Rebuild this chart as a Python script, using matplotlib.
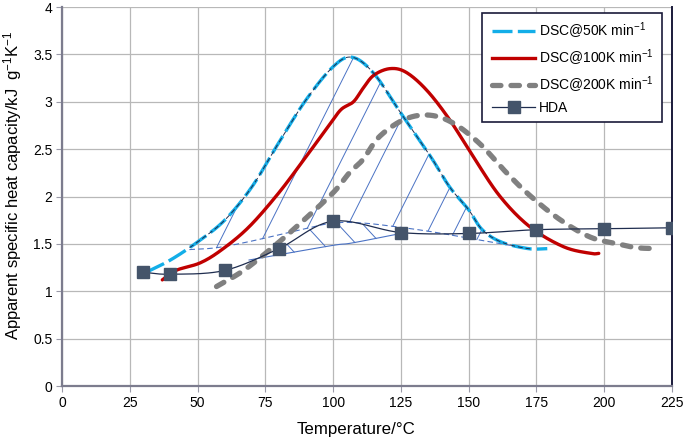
import numpy as np
import matplotlib
matplotlib.use("Agg")
import matplotlib.pyplot as plt
from matplotlib.lines import Line2D
from matplotlib.patches import Rectangle
from matplotlib.ticker import FuncFormatter, MultipleLocator

plt.rcParams['font.family'] = ['Liberation Sans', 'DejaVu Sans']
plt.rcParams['mathtext.fontset'] = 'custom'
plt.rcParams['mathtext.rm'] = 'Liberation Sans'
plt.rcParams['mathtext.it'] = 'Liberation Sans:italic'

# DSC curves (temperature in C, cp in kJ/g/K)
dsc50_t = [31, 40, 50, 60, 70, 80, 90, 100, 107, 115, 125, 136, 143, 150, 155, 162, 172, 179]
dsc50_cp = [1.20, 1.33, 1.52, 1.75, 2.10, 2.57, 3.02, 3.37, 3.47, 3.30, 2.88, 2.42, 2.10, 1.86, 1.65, 1.52, 1.45, 1.45]

dsc100_t = [37, 42, 51, 59, 69, 80, 90, 99, 103, 107.5, 111, 115, 121, 127, 134.6, 143, 151.7, 161.6, 172.6, 185, 195, 198]
dsc100_cp = [1.12, 1.22, 1.30, 1.44, 1.68, 2.04, 2.42, 2.77, 2.92, 3.00, 3.14, 3.28, 3.35, 3.31, 3.12, 2.81, 2.42, 2.00, 1.68, 1.47, 1.40, 1.40]

dsc200_t = [57, 67, 78, 88, 100, 106, 111, 117, 126, 135, 144, 154, 164, 173, 184, 195, 205, 212, 219]
dsc200_cp = [1.05, 1.22, 1.47, 1.72, 2.04, 2.25, 2.39, 2.63, 2.81, 2.86, 2.78, 2.56, 2.25, 2.00, 1.75, 1.57, 1.50, 1.46, 1.45]

hda_t = [30, 40, 60, 80, 100, 125, 150, 175, 200, 225]
hda_cp = [1.20, 1.18, 1.22, 1.45, 1.74, 1.62, 1.61, 1.65, 1.66, 1.67]

# baselines under the two peaks
base50_t = [47, 57, 70, 88, 100, 111, 123.5, 136, 148, 160, 168, 173]
base50_cp = [1.44, 1.46, 1.53, 1.65, 1.72, 1.72, 1.68, 1.63, 1.57, 1.51, 1.47, 1.45]
basehda_t = [69, 99, 107, 125]
basehda_cp = [1.33, 1.48, 1.51, 1.61]

# hatch lines: start temperatures and slopes (per degree)
hatch50_start = [57, 74, 90.5, 106, 122, 135, 144, 153]
hatch50_slope = 0.057
hatchhda_start = [83, 91.5, 100.7, 111]
hatchhda_slope = -0.031

legend_labels = [r'DSC@50K min$^{-1}$', r'DSC@100K min$^{-1}$',
                 r'DSC@200K min$^{-1}$', 'HDA']


def smooth(x, y, n=24):
    # Catmull-Rom, like Excel's smoothed lines
    x = np.asarray(x, float)
    y = np.asarray(y, float)
    px = np.concatenate([[2 * x[0] - x[1]], x, [2 * x[-1] - x[-2]]])
    py = np.concatenate([[2 * y[0] - y[1]], y, [2 * y[-1] - y[-2]]])
    t = np.linspace(0, 1, n, endpoint=False)
    xs, ys = [], []
    for i in range(1, len(px) - 2):
        for p, out in ((px, xs), (py, ys)):
            p0, p1, p2, p3 = p[i - 1], p[i], p[i + 1], p[i + 2]
            out.append(0.5 * (2 * p1 + (-p0 + p2) * t
                              + (2 * p0 - 5 * p1 + 4 * p2 - p3) * t ** 2
                              + (-p0 + 3 * p1 - 3 * p2 + p3) * t ** 3))
    xs = np.concatenate(xs + [[x[-1]]])
    ys = np.concatenate(ys + [[y[-1]]])
    return xs, ys


def hit(x0, y0, slope, cx, cy, above=True):
    # first crossing of a straight line with a curve
    xx = np.linspace(x0, x0 + 40, 800)
    yy = y0 + slope * (xx - x0)
    d = np.interp(xx, cx, cy) - yy
    idx = np.where(d <= 0)[0] if above else np.where(d >= 0)[0]
    k = idx[0] if len(idx) else len(xx) - 1
    return xx[k], yy[k]


c50 = '#13aee8'
c100 = '#c00000'
c200 = '#808080'
cnavy = '#1f2d4f'
cmark = '#44546a'
chatch = '#4a72c4'

fig = plt.figure(figsize=(6.85, 4.4), dpi=100)
ax = fig.add_axes([0.0905, 0.1227, 0.8905, 0.8613])

s50x, s50y = smooth(dsc50_t, dsc50_cp)
s100x, s100y = smooth(dsc100_t, dsc100_cp)
s200x, s200y = smooth(dsc200_t, dsc200_cp)
shx, shy = smooth(hda_t, hda_cp)
b50x, b50y = smooth(base50_t, base50_cp)
bhx, bhy = smooth(basehda_t, basehda_cp)

# hatching of the 50K peak
for x0 in hatch50_start:
    y0 = np.interp(x0, b50x, b50y)
    x1, y1 = hit(x0, y0, hatch50_slope, s50x, s50y, above=True)
    ax.plot([x0, x1], [y0, y1], color=chatch, lw=0.7, zorder=2)
ax.plot(b50x, b50y, color=chatch, lw=0.8, ls=(0, (5, 3)), zorder=2)
m = (s50x >= base50_t[0]) & (s50x <= base50_t[-1])
ax.plot(s50x[m], s50y[m], color=cnavy, lw=0.7, ls=(0, (5, 3)), zorder=4)

# hatching of the HDA peak
for x0 in hatchhda_start:
    y0 = np.interp(x0, shx, shy)
    x1, y1 = hit(x0, y0, hatchhda_slope, bhx, bhy, above=False)
    ax.plot([x0, x1], [y0, y1], color=chatch, lw=0.7, zorder=2)
ax.plot(bhx, bhy, color=chatch, lw=0.8, zorder=2)

l50, = ax.plot(s50x, s50y, color=c50, lw=2.4, zorder=3)
l50.set_dashes([6, 1.6])
ax.plot(s100x, s100y, color=c100, lw=2.4, zorder=3, solid_capstyle='round')
l200, = ax.plot(s200x, s200y, color=c200, lw=3.8, zorder=3, dash_capstyle='round')
l200.set_dashes([1.6, 1.9])
ax.plot(shx, shy, color=cnavy, lw=0.9, zorder=5)
ax.plot(hda_t, hda_cp, ls='none', marker='s', ms=8, color=cmark, zorder=6)

ax.set_xlim(0, 225)
ax.set_ylim(0, 4)
ax.xaxis.set_major_locator(MultipleLocator(25))
ax.yaxis.set_major_locator(MultipleLocator(0.5))
ax.yaxis.set_major_formatter(FuncFormatter(lambda v, p: '%g' % v))
ax.grid(True, color='#b8b8b8', lw=0.9)
ax.set_axisbelow(True)
ax.tick_params(length=4, width=0.8, color='#9a9aa8', labelsize=10, pad=3)
for side in ('left', 'bottom'):
    ax.spines[side].set_color('#7c7c8e')
    ax.spines[side].set_linewidth(1.6)
ax.spines['right'].set_color('#1a1a3a')
ax.spines['right'].set_linewidth(1.4)
ax.spines['top'].set_visible(False)

ax.set_xlabel('Temperature/°C', fontsize=12.2)
ax.set_ylabel(r'Apparent specific heat capacity/kJ  g$^{-1}$K$^{-1}$', fontsize=12)
ax.xaxis.set_label_coords(0.482, -0.095)
ax.yaxis.set_label_coords(-0.062, 0.53)

h50 = Line2D([], [], color=c50, lw=2.4, dashes=[6, 1.6])
h100 = Line2D([], [], color=c100, lw=2.4)
h200 = Line2D([], [], color=c200, lw=3.8, dashes=[1.6, 1.9], dash_capstyle='round')
hh = Line2D([], [], color=cnavy, lw=0.9, marker='s', ms=8, markerfacecolor=cmark,
            markeredgecolor=cmark)
leg = ax.legend([h50, h100, h200, hh], legend_labels, loc='upper left',
                bbox_to_anchor=(0.705, 0.964), borderaxespad=0, fontsize=10,
                handlelength=3.1, handletextpad=0.3, labelspacing=0.44,
                borderpad=0, frameon=False)
leg.set_zorder(8)
# legend box drawn on its own so its size matches the original
ax.add_patch(Rectangle((0.689, 0.697), 0.295, 0.287, transform=ax.transAxes,
                       facecolor='white', edgecolor='#1a1a3a', lw=1.2, zorder=7))

fig.savefig('out.png', dpi=100)
